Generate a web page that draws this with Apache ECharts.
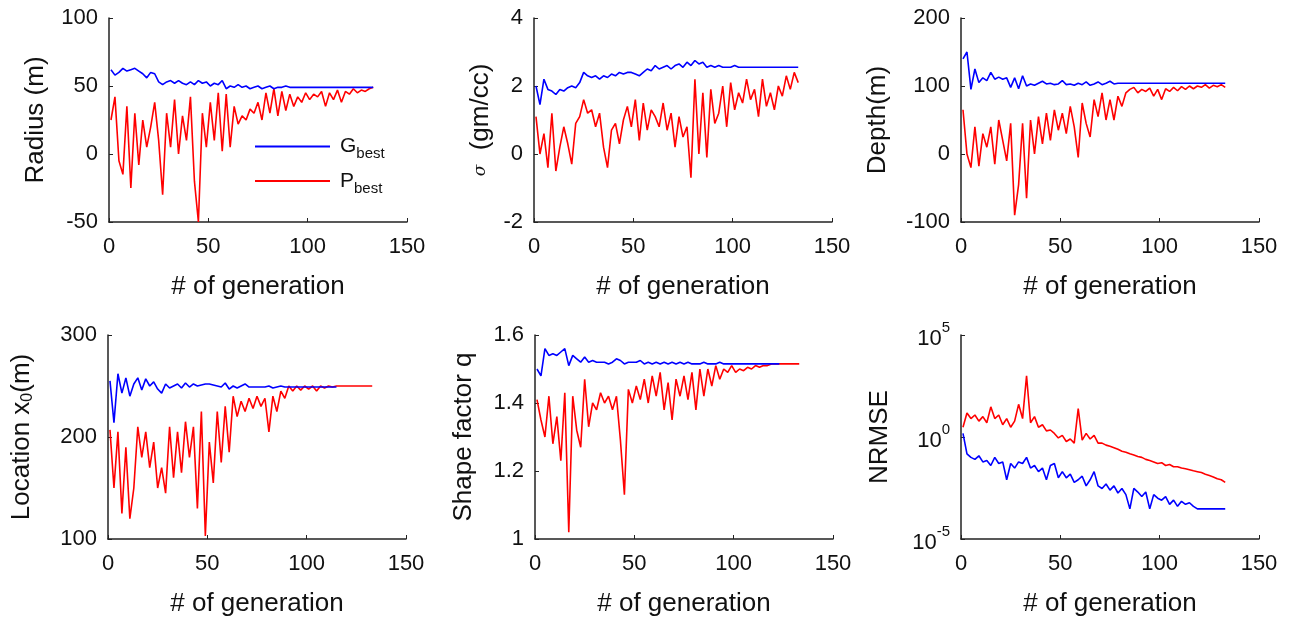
<!DOCTYPE html>
<html>
<head>
<meta charset="utf-8">
<script src="https://cdn.jsdelivr.net/npm/echarts@6/dist/echarts.min.js"></script>
<style>
  html, body { margin: 0; padding: 0; background: #fff; }
  #main { width: 1291px; height: 628px; }
</style>
</head>
<body>
<div id="main"></div>
<script>
// generation index of every sample (odd generations)
const generations = [1,3,5,7,9,11,13,15,17,19,21,23,25,27,29,31,33,35,37,39,41,43,45,47,49,51,53,55,57,59,61,63,65,67,69,71,73,75,77,79,81,83,85,87,89,91,93,95,97,99,101,103,105,107,109,111,113,115,117,119,121,123,125,127,129,131,133];

// Radius (m)
const radiusG = [62,58,60,63,61,62,63,61,59,56,60,59,53,51,53,54,52,54,52,51,53,51,54,52,53,50,52,51,54,48,50,49,51,49,50,48,49,50,48,49,50,48,49,49,50,49,49,49,49,49,49,49,49,49,49,49,49,49,49,49,49,49,49,49,49,49,49];
const radiusP = [25,42,-5,-15,35,-25,30,-8,25,5,20,38,10,-30,30,5,40,0,28,10,42,-20,-50,30,5,38,10,45,2,44,5,35,22,28,25,33,30,38,25,45,30,48,28,46,32,44,35,42,38,45,40,44,42,46,35,45,40,47,38,46,44,48,45,47,46,48,49];

// sigma (gm/cc)
const sigmaG = [2.0,1.45,2.2,1.9,1.85,1.75,1.9,1.85,1.95,2.0,1.95,2.1,2.4,2.3,2.25,2.3,2.2,2.3,2.25,2.35,2.3,2.4,2.35,2.4,2.4,2.35,2.3,2.4,2.5,2.45,2.6,2.5,2.55,2.6,2.5,2.6,2.65,2.55,2.7,2.6,2.75,2.65,2.7,2.55,2.6,2.55,2.6,2.55,2.55,2.55,2.6,2.55,2.55,2.55,2.55,2.55,2.55,2.55,2.55,2.55,2.55,2.55,2.55,2.55,2.55,2.55,2.55];
const sigmaP = [1.1,0.0,0.6,-0.4,1.2,-0.5,0.2,0.8,0.3,-0.3,0.9,1.1,1.6,1.2,1.3,0.8,1.2,0.2,-0.4,0.7,0.9,0.3,1.0,1.4,0.8,1.6,0.4,1.5,0.7,1.3,1.1,0.8,1.5,0.7,1.2,0.2,1.1,0.5,0.8,-0.7,2.2,0.0,1.8,-0.1,1.9,0.9,1.2,2.0,0.8,2.1,1.3,1.8,1.5,2.2,1.6,1.9,1.1,2.2,1.4,1.8,1.3,2.0,1.7,2.3,1.9,2.4,2.1];

// Depth (m)
const depthG = [140,150,95,125,105,112,108,120,110,113,110,112,98,112,96,115,100,103,101,104,107,103,104,102,103,108,102,103,101,104,102,106,101,103,106,102,104,107,103,104,104,104,104,104,104,104,104,104,104,104,104,104,104,104,104,104,104,104,104,104,104,104,104,104,104,104,104];
const depthP = [65,0,-20,40,-18,30,10,40,-15,50,20,-10,45,-90,-45,45,-65,50,0,55,15,60,20,65,35,60,30,70,40,-5,75,45,25,80,55,90,50,80,50,85,70,90,95,98,90,95,92,97,85,95,80,96,92,98,93,99,95,100,96,100,98,102,97,101,99,102,98];

// Location x0 (m)
const locationG = [255,214,262,243,258,240,252,258,246,257,250,254,247,243,252,248,250,252,248,253,249,252,250,251,252,252,251,250,249,253,247,250,248,250,252,249,249,249,249,249,250,248,249,250,249,249,249,249,249,249,249,249,249,249,249,249,249,249];
const locationP = [207,150,205,125,190,120,150,210,180,205,170,195,150,170,145,210,160,205,165,215,180,210,130,225,103,195,155,225,175,230,185,240,220,235,225,238,228,240,230,238,205,240,225,245,238,250,245,250,246,250,247,250,245,250,248,250,249,250,250,250,250,250,250,250,250,250,250];

// Shape factor q
const shapeG = [1.50,1.48,1.56,1.54,1.545,1.54,1.55,1.56,1.51,1.54,1.53,1.52,1.535,1.52,1.525,1.52,1.52,1.52,1.515,1.52,1.53,1.525,1.515,1.52,1.52,1.52,1.525,1.515,1.52,1.515,1.52,1.515,1.52,1.515,1.52,1.515,1.52,1.515,1.52,1.515,1.515,1.515,1.52,1.515,1.515,1.515,1.52,1.515,1.515,1.515,1.515,1.515,1.515,1.515,1.515,1.515,1.515,1.515,1.515,1.515,1.515,1.515];
const shapeP = [1.41,1.35,1.30,1.42,1.28,1.36,1.23,1.43,1.02,1.42,1.32,1.27,1.47,1.33,1.40,1.38,1.43,1.40,1.42,1.38,1.42,1.29,1.13,1.44,1.40,1.45,1.41,1.47,1.40,1.48,1.42,1.49,1.38,1.46,1.35,1.47,1.42,1.48,1.41,1.49,1.38,1.50,1.42,1.50,1.45,1.51,1.47,1.50,1.49,1.51,1.49,1.50,1.495,1.505,1.50,1.51,1.505,1.51,1.51,1.515,1.515,1.515,1.515,1.515,1.515,1.515,1.515];

// NRMSE (log scale)
const nrmseG = [1.5,0.15,0.1,0.08,0.12,0.06,0.07,0.04,0.1,0.05,0.06,0.008,0.05,0.03,0.06,0.05,0.1,0.03,0.04,0.02,0.03,0.008,0.04,0.05,0.01,0.02,0.01,0.015,0.006,0.008,0.012,0.004,0.008,0.02,0.004,0.003,0.005,0.0025,0.004,0.0018,0.003,0.0015,0.0003,0.003,0.002,0.0012,0.002,0.0003,0.0015,0.001,0.0008,0.0012,0.0005,0.0008,0.0004,0.0007,0.0005,0.0006,0.0004,0.0003,0.0003,0.0003,0.0003,0.0003,0.0003,0.0003,0.0003];
const nrmseP = [3,15,8,12,6,10,5,30,8,12,4,8,3,6,40,8,1000,5,10,3,4,2,2.2,1.5,0.9,1.2,0.6,0.8,0.5,25,0.7,1.5,0.8,1.2,0.5,0.5,0.4,0.35,0.3,0.25,0.2,0.18,0.15,0.13,0.11,0.1,0.08,0.07,0.06,0.05,0.055,0.04,0.045,0.035,0.035,0.03,0.028,0.025,0.022,0.02,0.018,0.015,0.013,0.011,0.009,0.008,0.006];

const FONT = "'Liberation Sans', Arial, sans-serif";
const AXIS_COLOR = '#222';

// panel boxes in pixels
const panels = [
  { left: 109, top: 18,  name: 'Radius (m)',            gap: 60, min: -50,  max: 100, interval: 50,  g: radiusG,   p: radiusP },
  { left: 534, top: 18,  name: '{i|σ}  (gm/cc)',        gap: 40, min: -2,   max: 4,   interval: 2,   g: sigmaG,    p: sigmaP },
  { left: 961, top: 18,  name: 'Depth(m)',              gap: 70, min: -100, max: 200, interval: 100, g: depthG,    p: depthP },
  { left: 108, top: 335, name: 'Location x{s|0}(m)',    gap: 72, min: 100,  max: 300, interval: 100, g: locationG, p: locationP },
  { left: 535, top: 335, name: 'Shape factor q',        gap: 58, min: 1,    max: 1.6, interval: 0.2, g: shapeG,    p: shapeP },
  { left: 961, top: 335, name: 'NRMSE',                 gap: 68, log: true, g: nrmseG,    p: nrmseP }
];

function pairs(vals) {
  return vals.map((v, i) => [generations[i], v]);
}

const chart = echarts.init(document.getElementById('main'));

const grid = [], xAxis = [], yAxis = [], series = [];
panels.forEach((pn, k) => {
  grid.push({ left: pn.left, top: pn.top, width: 298, height: 204 });
  xAxis.push({
    gridIndex: k, type: 'value', min: 0, max: 150, interval: 50,
    name: '# of generation', nameLocation: 'middle', nameGap: 52,
    nameTextStyle: { fontFamily: FONT, fontSize: 26, color: '#111' },
    axisLine: { onZero: false, lineStyle: { color: AXIS_COLOR, width: 1.5 } },
    axisTick: { inside: true, length: 4, lineStyle: { color: AXIS_COLOR } },
    axisLabel: { margin: 14, fontFamily: FONT, fontSize: 22, color: '#111' },
    splitLine: { show: false }
  });
  const y = {
    gridIndex: k,
    name: pn.name, nameLocation: 'middle', nameGap: pn.gap, nameRotate: 90,
    nameTextStyle: {
      fontFamily: FONT, fontSize: 26, color: '#111',
      rich: {
        i: { fontFamily: "'DejaVu Serif', serif", fontStyle: 'italic', fontSize: 17, color: '#111' },
        s: { fontFamily: FONT, fontSize: 16, color: '#111', padding: [12, 0, 0, 0] }
      }
    },
    axisLine: { show: true, onZero: false, lineStyle: { color: AXIS_COLOR, width: 1.5 } },
    axisTick: { show: true, inside: true, length: 4, lineStyle: { color: AXIS_COLOR } },
    axisLabel: { margin: 11, fontFamily: FONT, fontSize: 22, color: '#111' },
    splitLine: { show: false }
  };
  if (pn.log) {
    y.type = 'log';
    y.logBase = 10;
    y.min = 1e-5;
    y.max = 1e5;
    y.axisTick.customValues = [1e-5, 1, 1e5];
    y.axisLabel.customValues = [1e-5, 1, 1e5];
    y.axisLabel.formatter = v => '{b|10}{e|' + Math.round(Math.log10(v)) + '}';
    y.axisLabel.rich = {
      b: { fontFamily: FONT, fontSize: 22, color: '#111', lineHeight: 30, verticalAlign: 'bottom' },
      e: { fontFamily: FONT, fontSize: 15, color: '#111', lineHeight: 30, verticalAlign: 'top' }
    };
  } else {
    y.type = 'value';
    y.min = pn.min;
    y.max = pn.max;
    y.interval = pn.interval;
  }
  yAxis.push(y);

  series.push({
    name: 'G', type: 'line', xAxisIndex: k, yAxisIndex: k,
    data: pairs(pn.g), symbol: 'none', z: 3,
    lineStyle: { color: '#0000ff', width: 1.6 }, itemStyle: { color: '#0000ff' }
  });
  series.push({
    name: 'P', type: 'line', xAxisIndex: k, yAxisIndex: k,
    data: pairs(pn.p), symbol: 'none', z: 2,
    lineStyle: { color: '#ff0000', width: 1.6 }, itemStyle: { color: '#ff0000' }
  });
});

chart.setOption({
  animation: false,
  backgroundColor: '#fff',
  grid: grid,
  xAxis: xAxis,
  yAxis: yAxis,
  legend: {
    data: ['G', 'P'],
    orient: 'vertical',
    left: 250, top: 131,
    icon: 'rect', itemWidth: 75, itemHeight: 2, itemGap: 9,
    formatter: name => '{m|' + name + '}{s|best}',
    textStyle: {
      rich: {
        m: { fontFamily: FONT, fontSize: 21, color: '#111', lineHeight: 30, padding: [0, 0, 0, 5] },
        s: { fontFamily: FONT, fontSize: 15, color: '#111', lineHeight: 30, verticalAlign: 'bottom' }
      }
    }
  },
  series: series
});
</script>
</body>
</html>
